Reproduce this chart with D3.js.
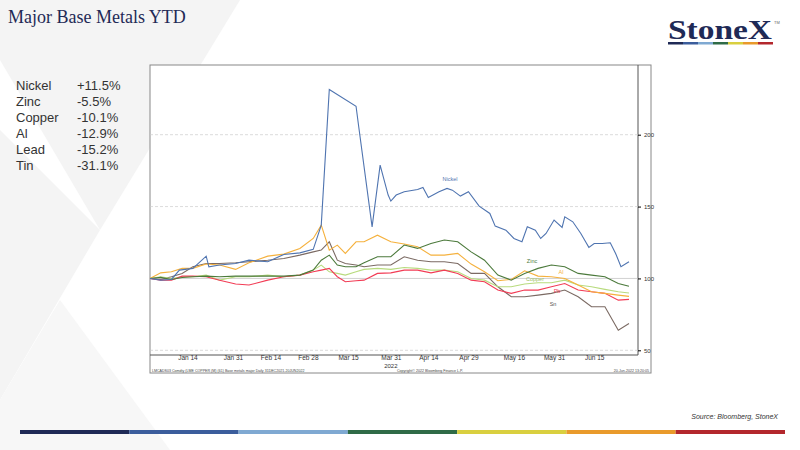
<!DOCTYPE html><html><head><meta charset="utf-8">
<script src="https://cdn.jsdelivr.net/npm/d3@7"></script>
<style>body{margin:0;background:#fff}</style></head><body><svg id="c" width="800" height="450"></svg>
<script>
const startDate = "2021-12-31";
const nickelDays = [0,4,8,11,16,21,22,26,32,37,44,50,56,61,64,67,77,78,83,86,89,90,92,95,100,102,104,108,111,113,116,119,123,127,129,133,136,139,141,144,146,148,151,154,155,158,161,163,164,166,169,172,174,176,179];
const nickel = [100,98.8,99.3,105.8,107,115.5,108.1,109.3,110.4,112.7,111.6,116.7,117.8,120.2,137.1,231.4,219.8,205.5,135.9,178.8,158,153.8,158,160.3,161.9,163.3,156.3,160.3,162.6,161.4,157.3,160.3,150.3,145.2,136.4,133.6,127.8,125.5,135.9,133.6,127.8,131.3,140.6,135.5,142.9,139.4,131.3,124.8,121.6,124.3,124.3,124.8,117.4,108.1,111.6];
const days = [0,4,8,12,16,21,26,32,37,44,50,56,61,64,67,70,73,77,80,85,90,95,100,105,110,115,120,125,130,135,140,145,150,155,160,165,170,175,179];
const zinc = [100,100.7,99.3,100.7,101.2,101.6,101.2,101.6,101.6,101.6,101.6,102.3,105.8,112.7,116.2,109.3,108.1,108.1,110.9,115.1,115.1,123.2,120.9,124.3,126.7,125.5,118.5,112.7,102.3,98.8,103.5,107,109.3,108.1,103.5,102.3,101.2,96.5,94.5];
const copper = [100,101.2,100,101.2,101.2,102.3,98.8,101.2,101.2,102.3,101.2,102.3,105.8,109.3,104.6,103.5,102.3,104.6,106.3,107,106.3,107.6,107,105.8,105.8,104.6,100,98.8,94.2,94.2,96.1,97,97,98.8,95.4,94.2,92.4,90.7,89.9];
const al = [100,103.9,104.6,107,107,110,109.3,106.3,110.9,115.5,116.9,120.9,127.8,137.1,119.7,123.2,117.4,125.5,125.5,130.1,125.5,123.9,122,116.2,116.2,117.4,110,104.6,98.4,99.3,105.3,101.6,101.2,100,95.4,90.7,89.6,88.4,87.5];
const lead = [100,98.8,98.8,101.6,101.6,101.2,98.8,96.1,95.4,98.8,101.2,102.3,104.6,105.8,107,101.2,97.7,98.4,98.8,103.5,103.9,105.8,105.8,103.9,105.8,103.5,98.8,97.7,91.9,89.6,91.9,91.9,94.2,96.5,91.9,90.7,89.6,84.9,85.4];
const tin = [100,99.3,101.2,103.5,108.1,110.4,110.4,110.9,111.6,112.7,113.9,116.2,118.5,119.7,125.5,112.7,110.4,109.3,108.1,109.3,109.3,115.1,112.7,111.6,111.6,110.4,103.5,103.5,94.2,87.3,87.3,88.4,89.6,91.9,87.3,80.3,80.3,64,68.7];
const tickLabels = ["2022-01-14","2022-01-31","2022-02-14","2022-02-28","2022-03-15","2022-03-31","2022-04-14","2022-04-29","2022-05-16","2022-05-31","2022-06-15"];
const yTicks = [50,100,150,200];
const perfNames = ["Nickel","Zinc","Copper","Al","Lead","Tin"];
const perfValues = ["+11.5%","-5.5%","-10.1%","-12.9%","-15.2%","-31.1%"];
const barColors = ["#1f2a56","#3b5d9c","#7fa9d2","#2f6b47","#d9cf3f","#e99a2b","#b3272d"];

const svg = d3.select("#c");
const parse = d3.utcParse("%Y-%m-%d");
const t0 = parse(startDate);
const dayDate = d => d3.utcDay.offset(t0, d);

svg.append("path").attr("d","M0,0 L240,0 L100,230 L0,60 Z").attr("fill","#f4f4f4");
svg.append("path").attr("d","M0,130 L100,230 L0,400 Z").attr("fill","#f4f4f4");
svg.append("path").attr("d","M60,300 L170,450 L0,450 L0,400 Z").attr("fill","#f7f7f7");

svg.append("text").attr("x",8).attr("y",23).attr("font-family","Liberation Serif").attr("font-size",18).attr("fill","#1f2a56").text("Major Base Metals YTD");
svg.append("text").attr("x",720).attr("y",39).attr("text-anchor","middle").attr("font-family","Liberation Serif").attr("font-weight","bold").attr("font-size",27).attr("textLength",104).attr("lengthAdjust","spacingAndGlyphs").attr("fill","#1f2a56").text("StoneX");
svg.append("text").attr("x",774).attr("y",24).attr("font-family","Arial").attr("font-size",4).attr("fill","#666").text("TM");
barColors.forEach((c,i)=>svg.append("rect").attr("x",668+i*15).attr("y",42).attr("width",15).attr("height",2.5).attr("fill",c));

perfNames.forEach((n,i)=>{
  svg.append("text").attr("x",16).attr("y",90+i*16).attr("font-family","Liberation Sans").attr("font-size",13).attr("fill","#333").text(n);
  svg.append("text").attr("x",77).attr("y",90+i*16).attr("font-family","Liberation Sans").attr("font-size",13).attr("fill","#333").text(perfValues[i]);
});

svg.append("rect").attr("x",150).attr("y",65).attr("width",501).attr("height",308).attr("fill","#fff").attr("stroke","#888");
const x = d3.scaleUtc().domain([dayDate(0), dayDate(183)]).range([150,639.7]);
const y = d3.scaleLinear().domain([50,200]).range([350.3,134.7]);
svg.append("line").attr("x1",638).attr("x2",638).attr("y1",65).attr("y2",355).attr("stroke","#555");
svg.append("line").attr("x1",150).attr("x2",638).attr("y1",355).attr("y2",355).attr("stroke","#555");
yTicks.forEach(v=>{
  svg.append("line").attr("x1",150).attr("x2",638).attr("y1",y(v)).attr("y2",y(v)).attr("stroke",v===100?"#bbb":"#ccc").attr("stroke-dasharray",v===100?null:"3,2").attr("stroke-width",0.7);
});
const ya = d3.axisRight(y).tickValues(yTicks).tickSize(3);
const gy = svg.append("g").attr("transform","translate(638,0)").call(ya);
gy.select(".domain").remove();
gy.selectAll("text").attr("font-size",6).attr("fill","#333").attr("font-family","Liberation Sans");
const xa = d3.axisBottom(x).tickValues(tickLabels.map(parse)).tickFormat(d3.utcFormat("%b %d")).tickSize(0);
const gx = svg.append("g").attr("transform","translate(0,355)").call(xa);
gx.select(".domain").remove();
gx.selectAll("text").attr("font-size",6.5).attr("fill","#333").attr("font-family","Liberation Sans").attr("dy","0.3em");
svg.append("text").attr("x",x(parse("2022-03-31"))).attr("y",368).attr("text-anchor","middle").attr("font-size",6).attr("font-family","Liberation Sans").attr("fill","#333").text("2022");
const ft = (t,xx,a)=>svg.append("text").attr("x",xx).attr("y",372).attr("text-anchor",a).attr("font-size",3.6).attr("font-family","Liberation Sans").attr("fill","#444").text(t);
ft("LMCADS03 Comdty (LME COPPER    (M) (61) Base metals major  Daily 31DEC2021-20JUN2022",152,"start");
ft("Copyright© 2022 Bloomberg Finance L.P.",430,"middle");
ft("20-Jun-2022 13:20:05",649,"end");

const line = d3.line().x(d=>x(dayDate(d[0]))).y(d=>y(d[1]));
const series = [
  [tin,"#7b6a63"],[copper,"#b8db7e"],[lead,"#f23c55"],[al,"#f5b13d"],[zinc,"#4c7a3c"]
];
series.forEach(([vals,c])=>svg.append("path").datum(days.map((d,i)=>[d,vals[i]])).attr("d",line).attr("fill","none").attr("stroke",c).attr("stroke-width",1.1));
svg.append("path").datum(nickelDays.map((d,i)=>[d,nickel[i]])).attr("d",line).attr("fill","none").attr("stroke","#4f74b0").attr("stroke-width",1.1);

const lab=(t,xx,yy,c)=>svg.append("text").attr("x",xx).attr("y",yy).attr("font-size",5.5).attr("font-family","Liberation Sans").attr("fill",c).attr("text-anchor","middle").text(t);
lab("Nickel",450,181,"#4f74b0");lab("Zinc",532,263,"#4c7a3c");lab("Copper",535,281,"#9cc060");
lab("Al",561,274,"#f5b13d");lab("Pb",557,293,"#f23c55");lab("Sn",553,306,"#555");

svg.append("text").attr("x",778).attr("y",419).attr("text-anchor","end").attr("font-size",7).attr("font-style","italic").attr("font-family","Liberation Sans").attr("fill","#333").text("Source: Bloomberg, StoneX");
const bw = (785-20)/barColors.length;
barColors.forEach((c,i)=>svg.append("rect").attr("x",20+i*bw).attr("y",430).attr("width",bw).attr("height",4).attr("fill",c));
</script></body></html>
